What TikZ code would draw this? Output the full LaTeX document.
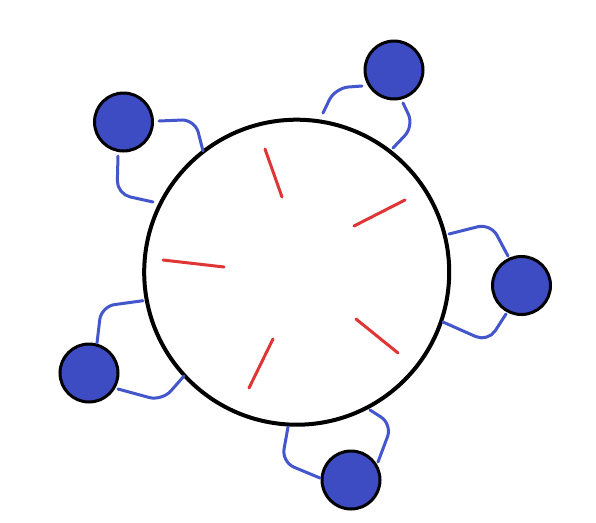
\documentclass[tikz,border=0pt]{standalone}
\begin{document}
\begin{tikzpicture}[x=0.75pt,y=-0.75pt,
  hub/.style={circle,draw=black,line width=3pt,minimum size=228.75pt,inner sep=0pt,outer sep=0pt},
  seat/.style={circle,draw=black,fill=seatblue,line width=2.25pt,minimum size=43.5pt,inner sep=0pt,outer sep=0pt},
  link/.style={draw=linkblue,line width=2.25pt,rounded corners=10pt,line cap=round,line join=round},
  tick/.style={draw=tickred,line width=2.25pt,line cap=round}]
\definecolor{seatblue}{HTML}{3E4CC4}
\definecolor{linkblue}{HTML}{4456CC}
\definecolor{tickred}{HTML}{E03535}
\useasboundingbox (0,0) rectangle (596,522);
\fill[white] (0,0) rectangle (596,522);
\node[hub] (hub) at (296.7,272.2) {};
\node[seat] (s1) at (123.5,122) {};
\node[seat] (s2) at (394,70) {};
\node[seat] (s3) at (521.5,285.5) {};
\node[seat] (s4) at (89,373) {};
\node[seat] (s5) at (351,480) {};
% connector end points
\coordinate (a1) at (159,121);   \coordinate (a2) at (203,151);
\coordinate (b1) at (118,156);   \coordinate (b2) at (153,202);
\coordinate (c1) at (362,86);    \coordinate (c2) at (323,113);
\coordinate (d1) at (403,103);   \coordinate (d2) at (393,148);
\coordinate (e1) at (508,256);   \coordinate (e2) at (449,234);
\coordinate (f1) at (506,314);   \coordinate (f2) at (443,322);
\coordinate (g1) at (97,343);    \coordinate (g2) at (143,300.7);
\coordinate (h1) at (118,389);   \coordinate (h2) at (184,376);
\coordinate (i1) at (320,478);   \coordinate (i2) at (288,427);
\coordinate (j1) at (378,462);   \coordinate (j2) at (370,410);
\draw[link] (a1) -- (195,119.5) -- (a2);
\draw[link] (b1) -- (117,194) -- (b2);
\draw[link] (c1) -- (335,88) -- (c2);
\draw[link] (d1) -- (414,126) -- (d2);
\draw[link] (e1) -- (490.7,223.5) -- (e2);
\draw[link] (f1) -- (488,342) -- (f2);
\draw[link] (g1) -- (101.3,306.4) -- (g2);
\draw[link] (h1) -- (162,401) -- (h2);
\draw[link] (i1) -- (281.7,462.1) -- (i2);
\draw[link] (j1) -- (392.2,424.2) -- (j2);
% red ticks
\coordinate (r1a) at (265,149); \coordinate (r1b) at (282,197);
\coordinate (r2a) at (405,200); \coordinate (r2b) at (354,226);
\coordinate (r3a) at (163,260); \coordinate (r3b) at (224,267);
\coordinate (r4a) at (356,319); \coordinate (r4b) at (398,353);
\coordinate (r5a) at (273,339); \coordinate (r5b) at (249,388);
\draw[tick] (r1a) -- (r1b);
\draw[tick] (r2a) -- (r2b);
\draw[tick] (r3a) -- (r3b);
\draw[tick] (r4a) -- (r4b);
\draw[tick] (r5a) -- (r5b);
\end{tikzpicture}
\end{document}
